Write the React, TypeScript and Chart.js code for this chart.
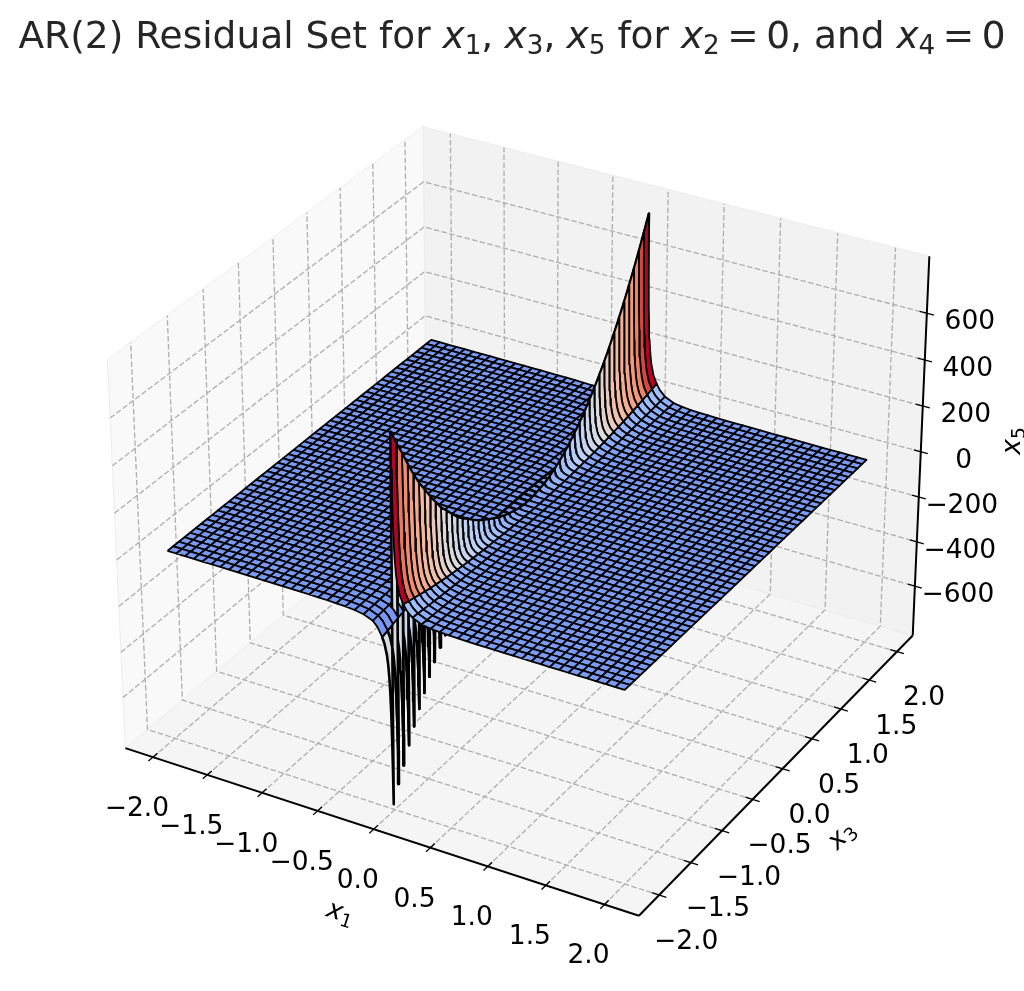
import React, { useEffect, useRef } from "react";
import { Chart, registerables } from "chart.js";

Chart.register(...registerables);

// ---------- values ----------
const x1Samples = [-2, -1.92, -1.841, -1.761, -1.682, -1.602, -1.522, -1.443, -1.363, -1.284, -1.204, -1.124, -1.045, -0.965, -0.886, -0.806, -0.726, -0.647, -0.567, -0.488, -0.408, -0.328, -0.249, -0.169, -0.13, -0.09, -0.07, -0.05, -0.04, -0.03, -0.025, -0.02, -0.015, -0.0125, -0.01,
  0.01, 0.0125, 0.015, 0.02, 0.025, 0.03, 0.04, 0.05, 0.07, 0.1, 0.13, 0.15, 0.178, 0.257, 0.335, 0.413, 0.492, 0.57, 0.648, 0.727, 0.805, 0.883, 0.962, 1.04, 1.118, 1.197, 1.275, 1.353, 1.432, 1.51, 1.588, 1.667, 1.745, 1.823, 1.902, 1.98];
const x1Falloff = [0.001, 0.001, 0.001, 0.0011, 0.0011, 0.0012, 0.0012, 0.0013, 0.0014, 0.0015, 0.0016, 0.0017, 0.0019, 0.0021, 0.0023, 0.0026, 0.003, 0.0035, 0.0045, 0.006, 0.008, 0.012, 0.02, 0.04, 0.065, 0.111, 0.143, 0.2, 0.25, 0.333, 0.4, 0.5, 0.667, 0.8, 1,
  1, 0.8, 0.667, 0.5, 0.4, 0.333, 0.25, 0.2, 0.143, 0.1, 0.07, 0.058, 0.042, 0.02, 0.012, 0.008, 0.006, 0.0045, 0.0035, 0.003, 0.0026, 0.0023, 0.0021, 0.0019, 0.0017, 0.0016, 0.0015, 0.0014, 0.0013, 0.0012, 0.0012, 0.0011, 0.0011, 0.001, 0.001, 0.001];
const x1Edges = [-2, -1.92, -1.841, -1.761, -1.682, -1.602, -1.522, -1.443, -1.363, -1.284, -1.204, -1.124, -1.045, -0.965, -0.886, -0.806, -0.726, -0.647, -0.567, -0.488, -0.408, -0.328, -0.249, -0.169, -0.09,
  0.01, 0.1, 0.178, 0.257, 0.335, 0.413, 0.492, 0.57, 0.648, 0.727, 0.805, 0.883, 0.962, 1.04, 1.118, 1.197, 1.275, 1.353, 1.432, 1.51, 1.588, 1.667, 1.745, 1.823, 1.902, 1.98];
const x3Grid = [-2, -1.921, -1.842, -1.763, -1.684, -1.605, -1.526, -1.447, -1.368, -1.289, -1.21, -1.131, -1.052, -0.973, -0.894, -0.815, -0.736, -0.657, -0.578, -0.499, -0.42, -0.341, -0.262, -0.183, -0.104, -0.025, 0.054, 0.133, 0.212, 0.291, 0.37, 0.449, 0.528, 0.607, 0.686, 0.765, 0.844, 0.923, 1.002, 1.081, 1.16, 1.239, 1.318, 1.397, 1.476, 1.555, 1.634, 1.713, 1.792, 1.871, 1.95];
const ridgeUp = [780, 714, 655, 590, 530, 476, 429, 380, 338, 296, 264, 231, 198, 173, 153, 128, 108, 90, 74, 58, 44, 32, 22, 14, 8, 4, 4, 7, 13, 20, 30, 43, 60, 78, 100, 125, 152, 181, 214, 249, 287, 327, 370, 416, 464, 515, 569, 625, 684, 746, 810];
const ridgeDownRatio = 1.03;

const x1Ticks = [-2, -1.5, -1, -0.5, 0, 0.5, 1, 1.5, 2];
const x3Ticks = [-2, -1.5, -1, -0.5, 0, 0.5, 1, 1.5, 2];
const x5Ticks = [-600, -400, -200, 0, 200, 400, 600];
const x1TickLabels = ["−2.0", "−1.5", "−1.0", "−0.5", "0.0", "0.5", "1.0", "1.5", "2.0"];
const x3TickLabels = ["−2.0", "−1.5", "−1.0", "−0.5", "0.0", "0.5", "1.0", "1.5", "2.0"];
const x5TickLabels = ["−600", "−400", "−200", "0", "200", "400", "600"];

const coolwarmStops = [
  [0, 59, 76, 192], [0.125, 98, 130, 234], [0.25, 141, 176, 254], [0.375, 186, 208, 249],
  [0.5, 221, 220, 220], [0.625, 245, 189, 163], [0.75, 244, 152, 122], [0.875, 217, 84, 64], [1, 180, 4, 38],
];

// ---------- view ----------
const W = 1024, H = 991;
const SX = 515, OX = 526, SY = 517, OY = 503;
const BOX = [1.1429, 1.1429, 0.857];
const U = [0.866, 0.5, 0], V = [-0.25, 0.433, 0.866], D = [0.433, -0.75, 0.5];

function projP(p: number, q: number, r: number) {
  const P = [p * BOX[0] - BOX[0] / 2, q * BOX[1] - BOX[1] / 2, r * BOX[2] - BOX[2] / 2];
  const dot = (a: number[]) => a[0] * P[0] + a[1] * P[1] + a[2] * P[2];
  const d = dot(D);
  const f = 10 / (10 - d);
  return { x: dot(U) * f, y: dot(V) * f, d };
}
const p1 = (v: number) => 0.4963 + 0.2199 * v;
const q3 = (v: number) => 0.503 + 0.2175 * v;
const r5 = (v: number) => 0.495 + 0.0006 * v;
const proj = (a: number, b: number, c: number) => projP(p1(a), q3(b), r5(c));

function coolwarm(c: number) {
  const t = Math.max(0, Math.min(1, c));
  for (let i = 1; i < coolwarmStops.length; i++) {
    const A = coolwarmStops[i - 1], B = coolwarmStops[i];
    if (t <= B[0]) {
      const k = (t - A[0]) / (B[0] - A[0]);
      return `rgb(${Math.round(A[1] + k * (B[1] - A[1]))},${Math.round(A[2] + k * (B[2] - A[2]))},${Math.round(A[3] + k * (B[3] - A[3]))})`;
    }
  }
  return "rgb(180,4,38)";
}

// ---------- data sets ----------
function surfaceDatasets() {
  const samples = x1Samples.map((v, k) => ({ v, k }));
  const zAt = (s: { v: number; k: number }, j: number) =>
    (s.v < 0 ? -ridgeDownRatio : 1) * ridgeUp[j] * x1Falloff[s.k];
  const cells: any[] = [];
  for (let i = 0; i < x1Edges.length - 1; i++) {
    const inCell = samples.filter((s) => s.v >= x1Edges[i] - 1e-9 && s.v <= x1Edges[i + 1] + 1e-9);
    for (let j = 0; j < x3Grid.length - 1; j++) {
      const pts: any[] = [];
      let dSum = 0, maxAbs = 0, hasNeg = false, hasPos = false;
      const add = (s: any, jj: number) => {
        const z = zAt(s, jj);
        const P = proj(s.v, x3Grid[jj], z);
        pts.push({ x: P.x, y: P.y });
        dSum += P.d;
        maxAbs = Math.max(maxAbs, Math.abs(z));
        if (s.v < 0) hasNeg = true; else hasPos = true;
      };
      inCell.forEach((s) => add(s, j));
      [...inCell].reverse().forEach((s) => add(s, j + 1));
      pts.push({ ...pts[0] });
      const ratio = maxAbs / 810;
      const straddles = hasNeg && hasPos;
      let c;
      if (straddles) c = 0.19 + 0.3 * ratio;
      else if (hasPos) c = 0.19 + 0.68 * Math.pow(ratio, 0.75) + Math.max(0, ratio - 0.9) * 3;
      else c = 0.19 - 0.05 * ratio;
      cells.push({
        depth: dSum / (pts.length - 1),
        data: pts,
        showLine: true,
        pointRadius: 0,
        fill: "shape",
        backgroundColor: coolwarm(c),
        borderColor: "#000000",
        borderWidth: straddles ? 2.6 : 1.8,
        borderJoinStyle: "round",
      });
    }
  }
  cells.sort((a, b) => b.depth - a.depth);
  return cells;
}

const line = (points: any[], color: string, width: number, dash: number[] = []) => ({
  data: points.map((P) => ({ x: P.x, y: P.y })),
  showLine: true,
  pointRadius: 0,
  fill: false,
  borderColor: color,
  borderWidth: width,
  borderDash: dash,
});

const pane = (corners: number[][], color: string) => {
  const pts = [...corners, corners[0]].map((c) => projP(c[0], c[1], c[2]));
  return {
    data: pts.map((P) => ({ x: P.x, y: P.y })),
    showLine: true,
    pointRadius: 0,
    fill: "shape",
    backgroundColor: color,
    borderColor: "#ececec",
    borderWidth: 1,
  };
};

function frameDatasets() {
  const GRID = "#aeaeae", GW = 1.3, DASH = [5.5, 2.4];
  const panes = [
    pane([[0, 0, 0], [0, 1, 0], [0, 1, 1], [0, 0, 1]], "#f9f9f9"),
    pane([[0, 1, 0], [1, 1, 0], [1, 1, 1], [0, 1, 1]], "#f2f2f2"),
    pane([[0, 0, 0], [1, 0, 0], [1, 1, 0], [0, 1, 0]], "#f5f5f5"),
  ];
  const grid: any[] = [];
  x1Ticks.forEach((t) => {
    const p = p1(t);
    grid.push(line([projP(p, 0, 0), projP(p, 1, 0), projP(p, 1, 1)], GRID, GW, DASH));
  });
  x3Ticks.forEach((t) => {
    const q = q3(t);
    grid.push(line([projP(1, q, 0), projP(0, q, 0), projP(0, q, 1)], GRID, GW, DASH));
  });
  x5Ticks.forEach((t) => {
    const r = r5(t);
    grid.push(line([projP(0, 0, r), projP(0, 1, r), projP(1, 1, r)], GRID, GW, DASH));
  });
  const axes = [
    line([projP(0, 0, 0), projP(1, 0, 0)], "#000000", 2),
    line([projP(1, 0, 0), projP(1, 1, 0)], "#000000", 2),
    line([projP(1, 1, 0), projP(1, 1, 1)], "#000000", 2),
  ];
  const ticks: any[] = [];
  x1Ticks.forEach((t) => ticks.push(line([projP(p1(t), -0.014, 0), projP(p1(t), 0.014, 0)], "#000000", 1.3)));
  x3Ticks.forEach((t) => ticks.push(line([projP(1 - 0.0135, q3(t), 0), projP(1 + 0.0135, q3(t), 0)], "#000000", 1.3)));
  x5Ticks.forEach((t) => ticks.push(line([projP(1 - 0.0135, 1, r5(t)), projP(1 + 0.0135, 1, r5(t))], "#000000", 1.3)));
  return { panes, grid, axes, ticks };
}

// ---------- text ----------
const FONT = '"DejaVu Sans"';
const TEXT = "#262626";
type Piece = { t: string; it?: boolean; sub?: boolean; gap?: number };
const titlePieces: Piece[] = [
  { t: "AR(2) Residual Set for " },
  { t: "x", it: true }, { t: "1", sub: true }, { t: ",", gap: 0.3 },
  { t: "x", it: true }, { t: "3", sub: true }, { t: ",", gap: 0.3 },
  { t: "x", it: true }, { t: "5", sub: true }, { t: " for " },
  { t: "x", it: true }, { t: "2", sub: true, gap: 0.2 }, { t: "=", gap: 0.2 }, { t: "0, and " },
  { t: "x", it: true }, { t: "4", sub: true, gap: 0.2 }, { t: "=", gap: 0.2 }, { t: "0" },
];

function drawPieces(ctx: CanvasRenderingContext2D, pieces: Piece[], size: number, color: string) {
  const fontOf = (p: Piece) => `${p.it ? "italic " : ""}${p.sub ? size * 0.7 : size}px ${FONT}`;
  let total = 0;
  pieces.forEach((p) => { ctx.font = fontOf(p); total += ctx.measureText(p.t).width + (p.gap || 0) * size; });
  let x = -total / 2;
  ctx.fillStyle = color;
  ctx.textAlign = "left";
  ctx.textBaseline = "alphabetic";
  pieces.forEach((p) => {
    ctx.font = fontOf(p);
    ctx.fillText(p.t, x, p.sub ? size * 0.17 : 0);
    x += ctx.measureText(p.t).width + (p.gap || 0) * size;
  });
}

const textPlugin = {
  id: "textLayer",
  afterDatasetsDraw(chart: any) {
    const ctx: CanvasRenderingContext2D = chart.ctx;
    const sx = chart.scales.x, sy = chart.scales.y;
    const px = (P: any) => ({ x: sx.getPixelForValue(P.x), y: sy.getPixelForValue(P.y) });
    ctx.save();
    ctx.fillStyle = "#000000";
    ctx.font = `26.5px ${FONT}`;
    ctx.textAlign = "center";
    ctx.textBaseline = "middle";
    x1Ticks.forEach((t, i) => {
      const P = px(projP(p1(t), 0, 0));
      ctx.fillText(x1TickLabels[i], P.x - 16, P.y + 52);
    });
    x3Ticks.forEach((t, i) => {
      const P = px(projP(1, q3(t), 0));
      ctx.fillText(x3TickLabels[i], P.x + 27, P.y + 47);
    });
    x5Ticks.forEach((t, i) => {
      const P = px(projP(1, 1, r5(t)));
      ctx.fillText(x5TickLabels[i], P.x + 43, P.y + 9);
    });
    const axisLabel = (x: number, y: number, deg: number, pieces: Piece[]) => {
      ctx.save();
      ctx.translate(x, y);
      ctx.rotate((deg * Math.PI) / 180);
      drawPieces(ctx, pieces, 26.5, "#000000");
      ctx.restore();
    };
    axisLabel(338, 920, 18, [{ t: "x", it: true }, { t: "1", sub: true }]);
    axisLabel(847, 841, -45, [{ t: "x", it: true }, { t: "3", sub: true }]);
    axisLabel(1020, 441, -90, [{ t: "x", it: true }, { t: "5", sub: true }]);
    ctx.save();
    ctx.translate(512, 48);
    drawPieces(ctx, titlePieces, 37.5, TEXT);
    ctx.restore();
    ctx.restore();
  },
};

export default function App() {
  const ref = useRef<HTMLCanvasElement | null>(null);
  useEffect(() => {
    if (!ref.current) return;
    const f = frameDatasets();
    const datasets = [...f.ticks, ...f.axes, ...surfaceDatasets(), ...f.grid, ...f.panes];
    const chart = new Chart(ref.current, {
      type: "scatter",
      data: { datasets: datasets as any },
      options: {
        responsive: false,
        animation: false,
        devicePixelRatio: 1,
        events: [],
        parsing: false,
        layout: { padding: 0 },
        scales: {
          x: { type: "linear", display: false, min: (0 - OX) / SX, max: (W - OX) / SX },
          y: { type: "linear", display: false, min: (OY - H) / SY, max: OY / SY },
        },
        plugins: {
          legend: { display: false },
          title: { display: false },
          tooltip: { enabled: false },
          filler: { drawTime: "beforeDatasetDraw", propagate: false },
        },
      } as any,
      plugins: [textPlugin],
    });
    return () => chart.destroy();
  }, []);
  return (
    <div style={{ position: "absolute", left: 0, top: 0, width: W, height: H, background: "#ffffff" }}>
      <canvas ref={ref} width={W} height={H} style={{ display: "block" }} />
    </div>
  );
}
